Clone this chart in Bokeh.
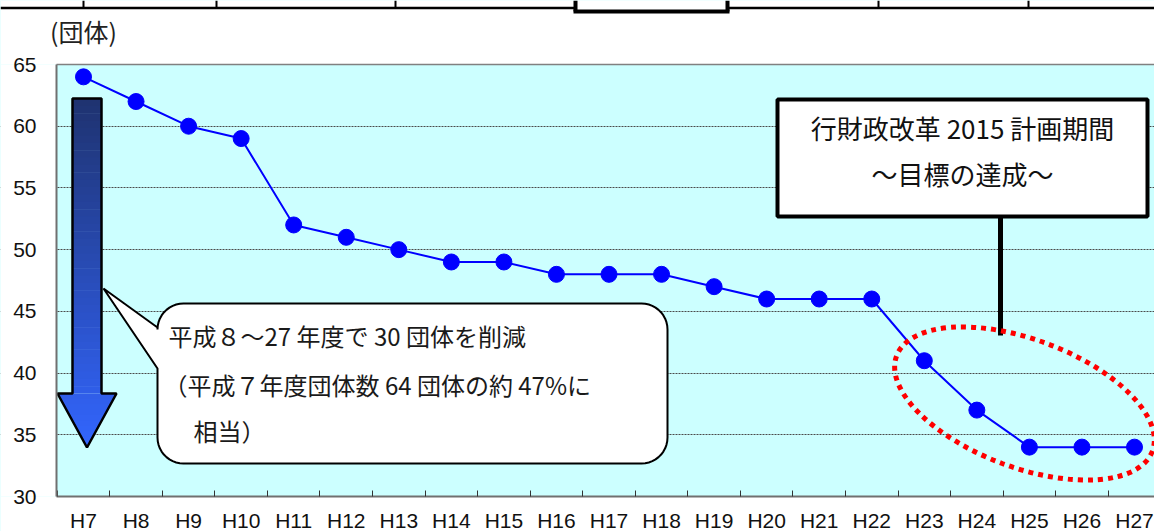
import numpy as np
from bokeh.plotting import figure
from bokeh.models import Range1d, FixedTicker
from bokeh.core.properties import value
from bokeh.embed import file_html
from bokeh.resources import INLINE

# ---------------- data ----------------
years = ["H7", "H8", "H9", "H10", "H11", "H12", "H13", "H14", "H15", "H16", "H17",
         "H18", "H19", "H20", "H21", "H22", "H23", "H24", "H25", "H26", "H27"]
counts = [64, 62, 60, 59, 52, 51, 50, 49, 49, 48, 48, 48, 47, 46, 46, 46, 41, 37, 34, 34, 34]
y_ticks = [30, 35, 40, 45, 50, 55, 60, 65]
unit_label = "(団体)"
box_lines = ["行財政改革 2015 計画期間", "～目標の達成～"]
bubble_lines = ["平成８～27 年度で 30 団体を削減", "（平成７年度団体数 64 団体の約 47%に", "相当）"]

# ---------------- layout (screen px) ----------------
W, H = 1154, 531
PL, PT, PB = 56, 64, 496          # plot area left / top / bottom in px
PX_UNIT = 52.55                   # px per category
XS = -83 / PX_UNIT                # data x at canvas px 0 (H7 centred at px 83)
XE = XS + W / PX_UNIT
Y0, Y1 = 30, 65
PY_UNIT = (PB - PT) / (Y1 - Y0)

def dx(px):
    return XS + px / PX_UNIT

def dy(py):
    return Y0 + (PB - py) / PY_UNIT

X0 = dx(PL)
YS, YE = dy(H), dy(0)
xi = list(range(len(years)))

p = figure(width=W, height=H, x_range=Range1d(XS, XE), y_range=Range1d(YS, YE),
           output_backend="svg", toolbar_location=None,
           min_border_left=0, min_border_right=0, min_border_top=0, min_border_bottom=0,
           background_fill_color="#CCFFFF", border_fill_color="white",
           outline_line_color=None)

# axes
p.xaxis.fixed_location = Y0
p.xaxis.bounds = (X0, XE)
p.xaxis.ticker = FixedTicker(ticks=xi, minor_ticks=[i - 0.5 for i in range(len(years) + 1)])
p.xaxis.major_label_overrides = {i: y for i, y in enumerate(years)}
p.xaxis.major_tick_in = 0
p.xaxis.major_tick_out = 0
p.xaxis.minor_tick_in = 6
p.xaxis.minor_tick_out = 0
p.xaxis.minor_tick_line_color = "#333333"
p.xaxis.axis_line_color = "#707070"
p.xaxis.axis_line_width = 2
p.xaxis.major_label_standoff = 12
p.xaxis.major_label_text_font = "Liberation Sans"
p.xaxis.major_label_text_font_size = "21px"
p.xaxis.major_label_text_color = "#111111"

p.yaxis.fixed_location = X0
p.yaxis.bounds = (Y0, Y1)
p.yaxis.ticker = FixedTicker(ticks=y_ticks)
p.yaxis.major_tick_in = 0
p.yaxis.major_tick_out = 0
p.yaxis.minor_tick_line_color = None
p.yaxis.axis_line_color = "#707070"
p.yaxis.axis_line_width = 2
p.yaxis.major_label_standoff = 20
p.yaxis.major_label_text_font = "Liberation Sans"
p.yaxis.major_label_text_font_size = "21px"
p.yaxis.major_label_text_color = "#111111"

p.xgrid.visible = False
p.ygrid.ticker = FixedTicker(ticks=y_ticks[1:-1])
p.ygrid.grid_line_color = "#4a4a4a"
p.ygrid.grid_line_dash = "2 1"
p.ygrid.grid_line_width = 1

# white page outside the plot area (covers background + grid there)
p.quad(left=[XS, XS, XS], right=[XE, X0, XE], bottom=[Y1, Y0, YS - 1], top=[YE + 1, Y1, Y0],
       fill_color="white", line_color=None)
# top border of plot area
p.line([X0, XE], [Y1, Y1], line_color="#808080", line_width=1.5)

# ---------------- page header decorations ----------------
hx0 = [0, 727, 83, 216, 395, 878, 1028, 575, 727, 573]
hy0 = [7.5, 7.5, 0, 0, 0, 0, 0, 0, 0, 11]
hx1 = [575, 1154, 83, 216, 395, 878, 1028, 575, 727, 729]
hy1 = [7.5, 7.5, 7.5, 7.5, 7.5, 7.5, 7.5, 11, 11, 11]
hw = [2.5, 2.5, 2, 2, 2, 2, 2, 4, 4, 4]
p.segment([dx(v) for v in hx0], [dy(v) for v in hy0], [dx(v) for v in hx1], [dy(v) for v in hy1],
          line_color="black", line_width=hw)
p.text([dx(83)], [dy(30)], text=[unit_label], text_align="center", text_baseline="middle",
       text_font=value("Noto Sans CJK JP"), text_font_size="25px", text_color="#222222")

# ---------------- big gradient arrow (decoration) ----------------
cx = 86.5
shaft_hw, head_hw = 14.5, 29.5
a_top, a_neck, a_tip = 98, 393, 447
c_top = np.array([0x1F, 0x33, 0x70])
c_bot = np.array([0x33, 0x66, 0xFF])

def half_w(py):
    if py <= a_neck:
        return shaft_hw
    return head_hw * (a_tip - py) / (a_tip - a_neck)

bxs, bys, bcols = [], [], []
for seg0, seg1, n in [(a_top, a_neck, 40), (a_neck, a_tip, 10)]:
    edges = np.linspace(seg0, seg1, n + 1)
    for y0, y1 in zip(edges[:-1], edges[1:]):
        y1e = min(y1 + 0.6, seg1)
        w0 = half_w(y0 + (0.01 if seg0 == a_neck else 0))
        w1 = half_w(y1e)
        xs_ = [cx - w0, cx + w0, cx + w1, cx - w1]
        ys_ = [y0, y0, y1e, y1e]
        bxs.append([dx(v) for v in xs_])
        bys.append([dy(v) for v in ys_])
        t = ((y0 + y1) / 2 - a_top) / (a_tip - a_top)
        c = (c_top + (c_bot - c_top) * t).astype(int)
        bcols.append("#%02x%02x%02x" % tuple(c))
p.patches(bxs, bys, fill_color=bcols, line_color=None)
ox = [cx - shaft_hw, cx + shaft_hw, cx + shaft_hw, cx + head_hw, cx, cx - head_hw, cx - shaft_hw]
oy = [a_top, a_top, a_neck, a_neck, a_tip, a_neck, a_neck]
p.patch([dx(v) for v in ox], [dy(v) for v in oy], fill_color=None, line_color="black", line_width=2.5)

# ---------------- data line ----------------
p.line(xi, counts, line_color="#0000FF", line_width=2)
p.scatter(xi, counts, size=16, fill_color="#0000FF", line_color="#0000FF")

# ---------------- callout bubble ----------------
L, R, T, B, r = 157, 667, 303, 463, 26
tipx, tipy, att_hi, att_lo = 103, 288, 327, 368

def arc(ccx, ccy, a0, a1):
    a = np.radians(np.linspace(a0, a1, 12))
    return list(ccx + r * np.cos(a)), list(ccy + r * np.sin(a))

px_, py_ = [], []
for sg in [arc(R - r, T + r, -90, 0), arc(R - r, B - r, 0, 90), arc(L + r, B - r, 90, 180)]:
    px_ += sg[0]; py_ += sg[1]
px_ += [L, tipx, L]
py_ += [att_lo, tipy, att_hi]
sg = arc(L + r, T + r, 180, 270)
px_ += sg[0]; py_ += sg[1]
p.patch([dx(v) for v in px_], [dy(v) for v in py_], fill_color="white", line_color="black", line_width=2)

p.text([dx(168), dx(163), dx(193)], [dy(335), dy(384), dy(430)], text=bubble_lines,
       text_font=value("Noto Sans CJK JP"), text_font_size="24px",
       text_align="left", text_baseline="middle", text_color="#1a1a1a")

# ---------------- target box & ellipse ----------------
p.line([dx(1000), dx(1000)], [dy(216), dy(335)], line_color="black", line_width=5)
p.quad(left=[dx(777)], right=[dx(1147)], top=[dy(99)], bottom=[dy(216)],
       fill_color="white", line_color="black", line_width=4)
p.text([dx(962), dx(962)], [dy(127), dy(173)], text=box_lines,
       text_font=value("Noto Sans CJK JP"), text_font_size="26px",
       text_align="center", text_baseline="middle", text_color="#111111")

p.ellipse(x=[dx(1024)], y=[dy(403)], width=273, height=128, width_units="screen",
          height_units="screen", angle=-0.356, fill_color=None,
          line_color="#FF0000", line_width=5, line_dash="5 5")

open("out.html", "w").write(file_html(p, INLINE))
